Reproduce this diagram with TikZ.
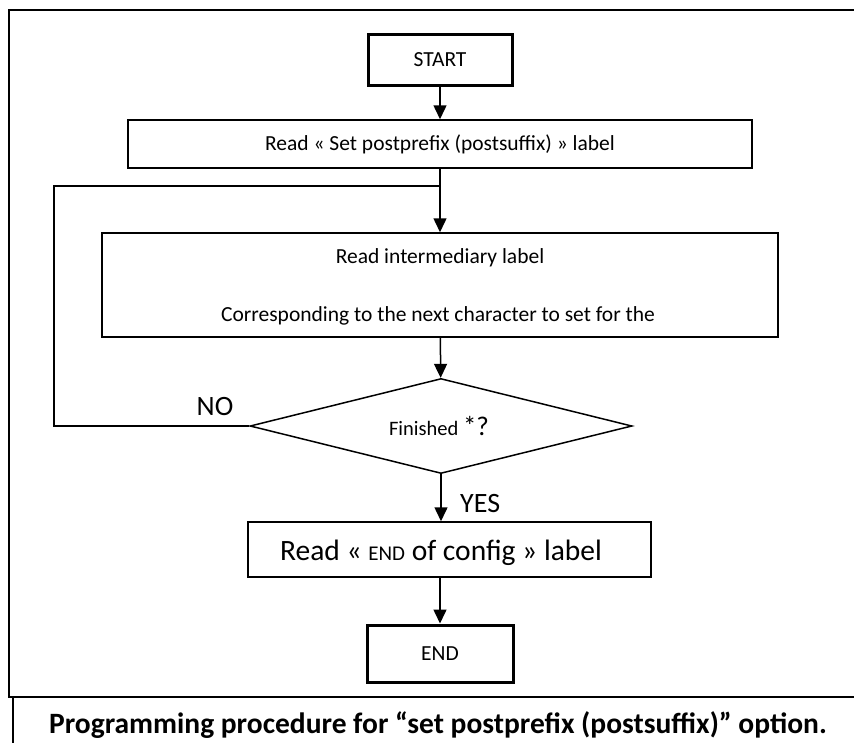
\documentclass[tikz,border=0pt]{standalone}
\usepackage{fontspec}
\setmainfont{Carlito}
\usetikzlibrary{shapes.geometric,arrows.meta}
\begin{document}
\begin{tikzpicture}[x=1pt,y=-1pt,
  txt/.style={font=\fontsize{21.5}{25}\selectfont},
  box/.style={draw, line width=1.5pt, inner sep=0pt, txt},
  term/.style={box, line width=3pt},
  arr/.style={line width=1.5pt, -{Triangle[length=14pt,width=13pt]}},
  lbl/.style={font=\fontsize{28}{32}\selectfont, inner sep=0pt},
  big/.style={font=\fontsize{29.5}{34}\selectfont, inner sep=0pt},
  frame/.style={line width=2.7pt}
]
\useasboundingbox (0,0) rectangle (854,742);
% frame
\draw[frame] (870,10) -- (9,10) -- (9,697);
\draw[line width=2pt] (8,697) -- (870,697);
\draw[line width=2pt] (13,697) -- (13,760);
% nodes
\node[term, minimum width=144pt, minimum height=51pt] (start) at (440,59.5) {START};
\node[box, minimum width=624pt, minimum height=48pt] (r1) at (440,144) {Read « Set postprefix (postsuffix) » label};
\node[box, minimum width=676pt, minimum height=104pt] (im) at (440,285) {};
\node[txt, anchor=base, inner sep=0pt] (imt1) at (440,263) {Read intermediary label};
\node[txt, anchor=base, inner sep=0pt] (imt2) at (438,321) {Corresponding to the next character to set for the};
\node[diamond, draw, line width=1.5pt, minimum width=382pt, minimum height=95pt, inner sep=0pt] (dec) at (441,426) {};
\node[font=\fontsize{20.5}{24}\selectfont, anchor=base, inner sep=0pt] (dect) at (439,435) {Finished {\fontsize{27}{30}\selectfont *?}};
\node[box, minimum width=403pt, minimum height=55pt] (ec) at (449.5,549.5) {};
\node[big, anchor=base] (ect) at (441,560) {Read « {\fontsize{21}{24}\selectfont END} of config » label};
\node[term, minimum width=146pt, minimum height=57pt] (end) at (440,653.5) {END};
% loop
\coordinate (c1) at (54,426);
\coordinate (c2) at (54,186);
\draw[line width=1.5pt] (dec.west) -- (c1) -- (c2) -- (r1.south |- c2);
% arrows
\draw[arr] (start) -- (r1);
\draw[arr] (r1) -- (im);
\draw[arr] (im) -- (dec);
\draw[arr] (dec.south) -- (dec.south |- ec.north);
\draw[arr] (end.north |- ec.south) -- (end.north);
% labels
\node[lbl, anchor=base] (no) at (215,415) {NO};
\node[lbl, anchor=base west] (yes) at (460,512) {YES};
% caption
\node[font=\bfseries\fontsize{29.5}{34}\selectfont, anchor=base, inner sep=0pt] (cap) at (438,733) {Programming procedure for “set postprefix (postsuffix)” option.};
\end{tikzpicture}
\end{document}
